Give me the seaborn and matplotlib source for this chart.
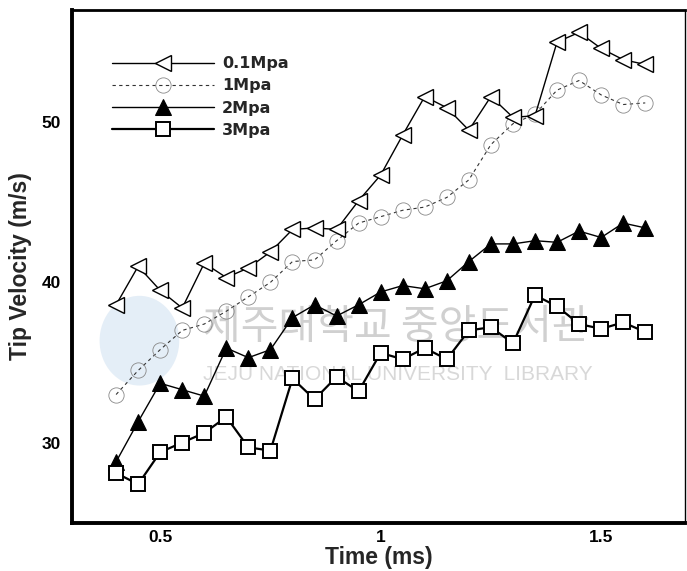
import numpy as np
import pandas as pd
import matplotlib
matplotlib.use("Agg")
import matplotlib.pyplot as plt
import seaborn as sns
from matplotlib.ticker import MultipleLocator
from matplotlib.patches import Ellipse

# ==========================================
# Data
# ==========================================

time_ms = [0.40, 0.45, 0.50, 0.55, 0.60, 0.65, 0.70, 0.75, 0.80, 0.85,
           0.90, 0.95, 1.00, 1.05, 1.10, 1.15, 1.20, 1.25, 1.30, 1.35,
           1.40, 1.45, 1.50, 1.55, 1.60]

v_01mpa = [38.6, 41.0, 39.5, 38.4, 41.2, 40.3, 40.9, 41.9, 43.3, 43.4,
           43.3, 45.1, 46.7, 49.2, 51.6, 50.9, 49.5, 51.6, 50.3, 50.4,
           55.0, 55.6, 54.6, 53.9, 53.6]

v_1mpa = [33.0, 34.5, 35.8, 37.0, 37.4, 38.2, 39.1, 40.0, 41.3, 41.4,
          42.6, 43.7, 44.1, 44.5, 44.7, 45.3, 46.4, 48.6, 49.9, 50.5,
          52.0, 52.6, 51.7, 51.1, 51.2]

v_2mpa = [28.8, 31.3, 33.7, 33.3, 32.9, 35.9, 35.3, 35.8, 37.8, 38.6,
          37.9, 38.6, 39.4, 39.8, 39.6, 40.1, 41.3, 42.4, 42.4, 42.6,
          42.5, 43.2, 42.8, 43.7, 43.4]

v_3mpa = [28.1, 27.4, 29.4, 30.0, 30.6, 31.6, 29.7, 29.5, 34.0, 32.7,
          34.1, 33.2, 35.6, 35.2, 35.9, 35.2, 37.0, 37.2, 36.2, 39.2,
          38.5, 37.4, 37.1, 37.5, 36.9]

labels = ["0.1Mpa", "1Mpa", "2Mpa", "3Mpa"]

x_ticks = [0.5, 1, 1.5]
x_tick_labels = ["0.5", "1", "1.5"]
y_ticks = [30, 40, 50]

# ==========================================
# Style
# ==========================================

sns.set_style("white")
plt.rcParams["font.family"] = ["Liberation Sans", "Noto Sans CJK KR", "DejaVu Sans"]
plt.rcParams["font.weight"] = "bold"

fig = plt.figure(figsize=(6.87, 5.71), dpi=100)
ax = fig.add_axes([0.1048, 0.0846, 0.8922, 0.8979])

# faint library watermark from the scan
ax.add_patch(Ellipse((0.11, 0.355), 0.13, 0.175, transform=ax.transAxes,
                     facecolor="#d3e3f2", edgecolor="none", alpha=0.6, zorder=0))
ax.text(0.213, 0.38, "제주대학교 중앙도서관", transform=ax.transAxes,
        fontsize=29.5, color="#d0d0d0", fontweight="normal",
        family=["Noto Sans CJK KR"], zorder=0, va="center")
ax.text(0.213, 0.29, "JEJU NATIONAL UNIVERSITY  LIBRARY", transform=ax.transAxes,
        fontsize=15, color="#d8d8d8", fontweight="normal", zorder=0, va="center")

# ==========================================
# Lines
# ==========================================

sns.lineplot(x=time_ms, y=v_01mpa, ax=ax, color="black", lw=1.0,
             marker="<", markersize=12, markerfacecolor="white",
             markeredgecolor="black", markeredgewidth=1.0,
             label=labels[0], zorder=4)

sns.lineplot(x=time_ms, y=v_1mpa, ax=ax, color="#333333", lw=0.8,
             linestyle=(0, (3, 3)), marker="o", markersize=11,
             markerfacecolor="none", markeredgecolor="#888888",
             markeredgewidth=0.6, label=labels[1], zorder=3)

sns.lineplot(x=time_ms, y=v_2mpa, ax=ax, color="black", lw=1.0,
             marker="^", markersize=11, markerfacecolor="black",
             markeredgecolor="black", label=labels[2], zorder=4)

sns.lineplot(x=time_ms, y=v_3mpa, ax=ax, color="black", lw=1.6,
             marker="s", markersize=10, markerfacecolor="white",
             markeredgecolor="black", markeredgewidth=1.4,
             label=labels[3], zorder=4)

# ==========================================
# Axes
# ==========================================

ax.set_xlim(0.30, 1.69)
ax.set_ylim(25, 57)

ax.set_xticks(x_ticks)
ax.set_xticklabels(x_tick_labels)
ax.set_yticks(y_ticks)
ax.xaxis.set_minor_locator(MultipleLocator(0.1))
ax.yaxis.set_minor_locator(MultipleLocator(2))

ax.tick_params(which="major", direction="in", length=12, width=2.5,
               labelsize=12.5, pad=8, colors="black")
ax.tick_params(which="minor", direction="in", length=7, width=1.2)
ax.tick_params(axis="x", which="major", pad=5)
for lab in ax.get_xticklabels() + ax.get_yticklabels():
    lab.set_fontweight("bold")

for side, w in [("left", 2.8), ("bottom", 2.8), ("top", 2.0), ("right", 1.0)]:
    ax.spines[side].set_linewidth(w)
    ax.spines[side].set_color("black")

ax.set_xlabel("Time (ms)", fontsize=16.5, fontweight="bold", labelpad=1)
ax.set_ylabel("Tip Velocity (m/s)", fontsize=16.5, fontweight="bold", labelpad=7)

leg = ax.legend(loc="upper left", bbox_to_anchor=(0.065, 0.91), frameon=False,
                handlelength=6.4, handletextpad=0.5, labelspacing=0.45,
                borderpad=0, borderaxespad=0,
                prop={"family": "DejaVu Sans", "weight": "bold", "size": 11.5})

plt.savefig("out.png", dpi=100)
